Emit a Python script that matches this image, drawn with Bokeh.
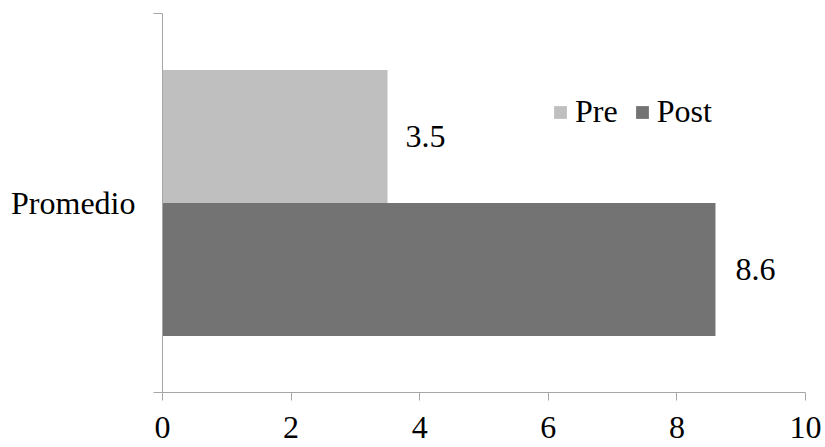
from bokeh.plotting import figure
from bokeh.models import Range1d, FixedTicker, ColumnDataSource, Legend, LegendItem
from bokeh.transform import dodge
from bokeh.core.properties import value
from bokeh.embed import file_html
from bokeh.resources import INLINE

categories = ["Promedio"]
series_names = ["Pre", "Post"]
pre_values = [3.5]
post_values = [8.6]
value_labels_pre = ["3.5"]
value_labels_post = ["8.6"]
x_ticks = [0, 2, 4, 6, 8, 10]

FONT = "Liberation Serif"
FS = "32px"
AXIS_COLOR = "#a6a6a6"
PRE_COLOR = "#bfbfbf"
POST_COLOR = "#737373"

# category slots: category i occupies [i, i+1], centred at i + 0.5
n = len(categories)
centers = [i + 0.5 for i in range(n)]
bounds = list(range(n + 1))

p = figure(width=825, height=447, y_range=Range1d(0, n), x_range=Range1d(0, 10),
           output_backend="svg", toolbar_location=None,
           min_border_left=162, min_border_right=20,
           min_border_top=13, min_border_bottom=55)
p.grid.visible = False
p.outline_line_color = None
p.background_fill_color = "white"
p.border_fill_color = "white"

src = ColumnDataSource(dict(pos=centers, pre=pre_values, post=post_values,
                            pre_lab=value_labels_pre, post_lab=value_labels_post))

bar_h = 0.351
r_pre = p.hbar(y=dodge("pos", bar_h / 2), right="pre", left=0, height=bar_h,
               source=src, fill_color=PRE_COLOR, line_color=None)
r_post = p.hbar(y=dodge("pos", -bar_h / 2), right="post", left=0, height=bar_h,
                source=src, fill_color=POST_COLOR, line_color=None)

p.text(x="pre", y=dodge("pos", bar_h / 2), text="pre_lab", source=src,
       x_offset=18, text_baseline="middle", text_align="left",
       text_font=value(FONT), text_font_size=FS, text_color="black")
p.text(x="post", y=dodge("pos", -bar_h / 2), text="post_lab", source=src,
       x_offset=20, text_baseline="middle", text_align="left",
       text_font=value(FONT), text_font_size=FS, text_color="black")

# x axis
xa = p.xaxis[0]
xa.ticker = FixedTicker(ticks=x_ticks)
xa.axis_line_color = AXIS_COLOR
xa.major_tick_line_color = AXIS_COLOR
xa.major_tick_out = 8
xa.major_tick_in = 0
xa.minor_tick_line_color = None
xa.major_label_text_font = FONT
xa.major_label_text_font_size = FS
xa.major_label_text_color = "black"
xa.major_label_standoff = 16

# y axis: category labels at centres, boundary ticks as minor ticks
ya = p.yaxis[0]
ya.ticker = FixedTicker(ticks=centers, minor_ticks=bounds)
ya.major_label_overrides = {c: name for c, name in zip(centers, categories)}
ya.axis_line_color = AXIS_COLOR
ya.major_tick_line_color = None
ya.major_tick_out = 0
ya.major_tick_in = 0
ya.minor_tick_line_color = AXIS_COLOR
ya.minor_tick_out = 9
ya.minor_tick_in = 0
ya.major_label_text_font = FONT
ya.major_label_text_font_size = FS
ya.major_label_text_color = "black"
ya.major_label_standoff = 18
ya.major_label_orientation = "horizontal"

legend = Legend(items=[LegendItem(label=series_names[0], renderers=[r_pre]),
                       LegendItem(label=series_names[1], renderers=[r_post])],
                orientation="horizontal", location=(390, 262),
                glyph_width=16, glyph_height=16, label_standoff=7, spacing=16,
                padding=0, margin=0, border_line_color=None, background_fill_alpha=0,
                label_text_font=FONT, label_text_font_size=FS, label_text_color="black")
p.add_layout(legend, "center")

open("out.html", "w").write(file_html(p, INLINE))
